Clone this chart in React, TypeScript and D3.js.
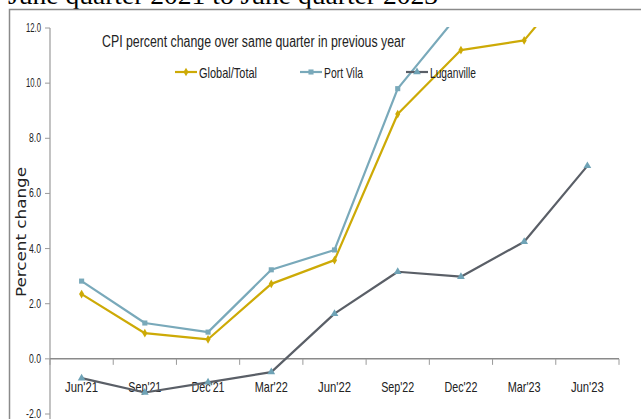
import React from 'react';
import * as d3 from 'd3';

const quarters = ["Jun'21", "Sep'21", "Dec'21", "Mar'22", "Jun'22", "Sep'22", "Dec'22", "Mar'23", "Jun'23"];
const globalTotal = [2.35, 0.93, 0.71, 2.72, 3.58, 8.88, 11.2, 11.55, 14.3];
const portVila = [2.82, 1.3, 0.97, 3.23, 3.95, 9.8, 12.6, 13.4, 15.5];
const luganville = [-0.7, -1.22, -0.85, -0.48, 1.64, 3.16, 2.98, 4.25, 7.0];
const yTicks = [-2, 0, 2, 4, 6, 8, 10, 12];

const W = 641;
const H = 419;
const narrow = "'Liberation Sans Narrow', 'Arial Narrow', 'Liberation Sans', sans-serif";

const series = [
  { name: 'Global/Total', values: globalTotal, color: '#CDAA06', symbol: d3.symbolDiamond, size: 22, fill: '#CDAA06', lx: 175, tw: 58 },
  { name: 'Port Vila', values: portVila, color: '#79A9BA', symbol: d3.symbolSquare, size: 26, fill: '#79A9BA', lx: 300, tw: 39 },
  { name: 'Luganville', values: luganville, color: '#5A5F67', symbol: d3.symbolTriangle, size: 26, fill: '#6FA3B6', lx: 406, tw: 46 },
];

const App = () => {
  const x = d3.scaleBand<string>().domain(quarters).range([50, 619]);
  const y = d3.scaleLinear().domain([-2, 12]).range([414, 28]);
  const cx = (q: string) => (x(q) as number) + x.bandwidth() / 2;
  const y0 = y(0);

  const line = d3.line<number>()
    .x((_, i) => cx(quarters[i]))
    .y(d => y(d));

  const bounds = d3.range(quarters.length + 1).map(i => 50 + i * x.bandwidth());

  return (
    <svg width={W} height={H} style={{ position: 'absolute', left: 0, top: 0, background: '#fff' }}>
      <defs>
        <clipPath id="plot">
          <rect x={45} y={y(12) - 1} width={W - 45} height={H} />
        </clipPath>
      </defs>
      <rect width={W} height={H} fill="#fff" />

      {/* heading, cut off at the top of the screenshot like the source */}
      <text x={8} y={4} fontFamily="'Liberation Serif', 'Times New Roman', serif" fontSize={25}
        textLength={430} lengthAdjust="spacingAndGlyphs" fill="#000">June  quarter 2021 to June  quarter 2023</text>

      {/* frame */}
      <path d={`M9.5,${H} V9.5 H${W}`} fill="none" stroke="#8a8a8a" strokeWidth={1.5} />

      {/* y axis */}
      <line x1={50} x2={50} y1={y(12)} y2={H} stroke="#9a9a9a" strokeWidth={1.2} />
      {yTicks.map(t => (
        <g key={t}>
          <line x1={45} x2={50} y1={y(t)} y2={y(t)} stroke="#9a9a9a" />
          <text x={41} y={y(t) + 4} textAnchor="end" fontFamily={narrow} fontSize={12}
            textLength={t >= 10 || t < 0 ? 15 : 12} lengthAdjust="spacingAndGlyphs" fill="#222">{t.toFixed(1)}</text>
        </g>
      ))}
      <text transform={`translate(26,232) rotate(-90)`} textAnchor="middle" fontFamily="'DejaVu Sans', Verdana, sans-serif"
        fontSize={14} textLength={130} lengthAdjust="spacingAndGlyphs" fill="#222">Percent change</text>

      {/* x axis at zero */}
      <line x1={50} x2={619} y1={y0} y2={y0} stroke="#8a8a8a" strokeWidth={1.5} />
      {bounds.map((b, i) => (
        <line key={i} x1={b} x2={b} y1={y0} y2={y0 + 6} stroke="#9a9a9a" />
      ))}
      {quarters.map(q => (
        <text key={q} x={cx(q)} y={392} textAnchor="middle" fontFamily={narrow} fontSize={14.5}
          textLength={33} lengthAdjust="spacingAndGlyphs" fill="#222">{q}</text>
      ))}

      {/* title */}
      <text x={102} y={47} fontFamily={narrow} fontSize={16} textLength={303} lengthAdjust="spacingAndGlyphs" fill="#222">
        CPI percent change over same quarter in previous year
      </text>

      {/* series */}
      <g clipPath="url(#plot)">
        {series.map(s => (
          <g key={s.name}>
            <path d={line(s.values) as string} fill="none" stroke={s.color} strokeWidth={2.2} strokeLinejoin="round" />
            {s.values.map((v, i) => (
              <path key={i} transform={`translate(${cx(quarters[i])},${y(v)})`}
                d={d3.symbol().type(s.symbol).size(s.size)() as string} fill={s.fill} />
            ))}
          </g>
        ))}
      </g>

      {/* legend */}
      {series.map(s => (
        <g key={s.name}>
          <line x1={s.lx} x2={s.lx + 22} y1={72} y2={72} stroke={s.color} strokeWidth={2.2} />
          <path transform={`translate(${s.lx + 11},72)`} d={d3.symbol().type(s.symbol).size(s.size)() as string} fill={s.fill} />
          <text x={s.lx + 24} y={77.5} fontFamily={narrow} fontSize={14.5} textLength={s.tw} lengthAdjust="spacingAndGlyphs" fill="#222">{s.name}</text>
        </g>
      ))}
    </svg>
  );
};

export default App;
